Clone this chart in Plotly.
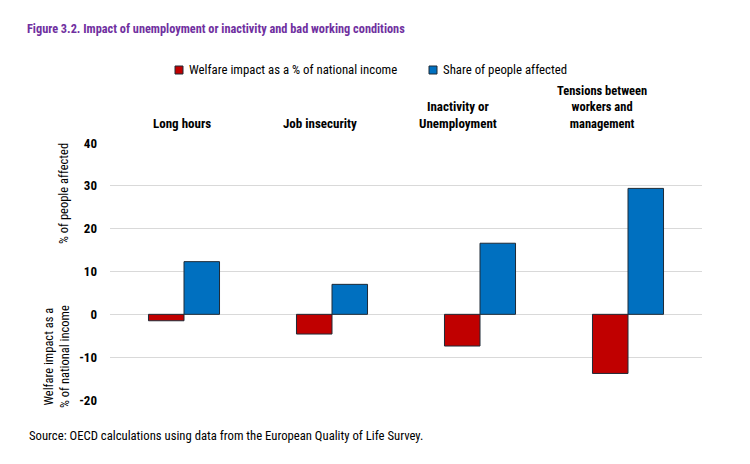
import plotly.graph_objects as go

categories = ["Long hours", "Job insecurity", "Inactivity or Unemployment", "Tensions between workers and management"]
category_lines = [["Long hours"], ["Job insecurity"], ["Inactivity or", "Unemployment"],
                  ["Tensions between", "workers and", "management"]]
welfare_impact = [-1.5, -4.6, -7.4, -13.8]
share_affected = [12.3, 7.0, 16.6, 29.4]
tick_values = [-20, -10, 0, 10, 20, 30, 40]
tick_labels = ["-20", "-10", "0", "10", "20", "30", "40"]
series_names = ["Welfare impact as a % of national income", "Share of people affected"]
series_colors = ["#C00000", "#0070C0"]

FONT = "Roboto, Liberation Sans, sans-serif"
W, H = 750, 464
L, R, T, B = 110, 48, 143, 64
PW, PH = W - L - R, H - T - B


def cond(lines, bold=False):
    if isinstance(lines, str):
        lines = [lines]
    out = []
    for ln in lines:
        s = f"<b>{ln}</b>" if bold else ln
        out.append(f"<span style='font-stretch:condensed'>{s}</span>")
    return "<br>".join(out)


def px_x(px):
    return (px - L) / PW


def px_y(py):
    return (H - B - py) / PH


fig = go.Figure()
for name, vals, col in zip(series_names, [welfare_impact, share_affected], series_colors):
    fig.add_trace(go.Bar(x=categories, y=vals, name=name,
                         marker=dict(color=col, line=dict(color="#1e2a36", width=1)),
                         showlegend=False))

fig.update_layout(
    width=W, height=H,
    margin=dict(l=L, r=R, t=T, b=B),
    paper_bgcolor="white", plot_bgcolor="white",
    barmode="group", bargap=0.52, bargroupgap=0,
    font=dict(family=FONT, size=12, color="#000000"),
    title=dict(text=cond("Figure 3.2. Impact of unemployment or inactivity and bad working conditions", bold=True),
               xref="container", yref="container", x=27 / W, xanchor="left", y=1 - 29 / H, yanchor="middle",
               font=dict(family=FONT, size=12.3, color="#7030A0")),
    xaxis=dict(showticklabels=False, showgrid=False, zeroline=False, showline=False, ticks=""),
    yaxis=dict(range=[-20, 40], tickvals=tick_values, ticktext=[cond(t, bold=True) for t in tick_labels],
               showgrid=True, gridcolor="#d9d9d9", gridwidth=1, zeroline=False, showline=False, ticks="",
               ticklabelstandoff=12, tickfont=dict(family=FONT, size=13, color="#000000")),
)

annotations = []
shifts = [-2, -12, -22, -26]
label_sizes = [13, 13, 13, 12.5]
for cat, lines, sh, sz in zip(categories, category_lines, shifts, label_sizes):
    annotations.append(dict(x=cat, xref="x", y=px_y(133), yref="paper", yanchor="bottom", xanchor="center",
                            xshift=sh, text=cond(lines, bold=True), showarrow=False,
                            font=dict(family=FONT, size=sz, color="#000000")))

# legend (custom, mirrors the two series)
leg_y = 70
leg_items = [(175, 187), (429, 441)]
for (sqx, tx), name, col in zip(leg_items, series_names, series_colors):
    fig.add_shape(type="rect", xref="paper", yref="paper", x0=px_x(sqx), x1=px_x(sqx + 8),
                  y0=px_y(leg_y + 4), y1=px_y(leg_y - 4), fillcolor=col, line=dict(color="#1e2a36", width=1))
    annotations.append(dict(x=px_x(tx), y=px_y(leg_y), xref="paper", yref="paper", xanchor="left", yanchor="middle",
                            text=cond(name), showarrow=False, font=dict(family=FONT, size=12.8, color="#000000")))

# y-axis titles
annotations.append(dict(x=px_x(63), y=px_y(194), xref="paper", yref="paper", xanchor="center", yanchor="middle",
                        text=cond("% of people affected"), textangle=-90, showarrow=False,
                        font=dict(family=FONT, size=12.5, color="#000000")))
annotations.append(dict(x=px_x(56), y=px_y(357), xref="paper", yref="paper", xanchor="center", yanchor="middle",
                        text=cond(["Welfare impact as a", "% of national income"]), textangle=-90, showarrow=False,
                        font=dict(family=FONT, size=12.5, color="#000000")))
# source
annotations.append(dict(x=px_x(27), y=px_y(435), xref="paper", yref="paper", xanchor="left", yanchor="middle",
                        text=cond("Source: OECD calculations using data from the European Quality of Life Survey."),
                        showarrow=False, font=dict(family=FONT, size=12.7, color="#000000")))
fig.update_layout(annotations=annotations)

fig.write_html("out.html")
